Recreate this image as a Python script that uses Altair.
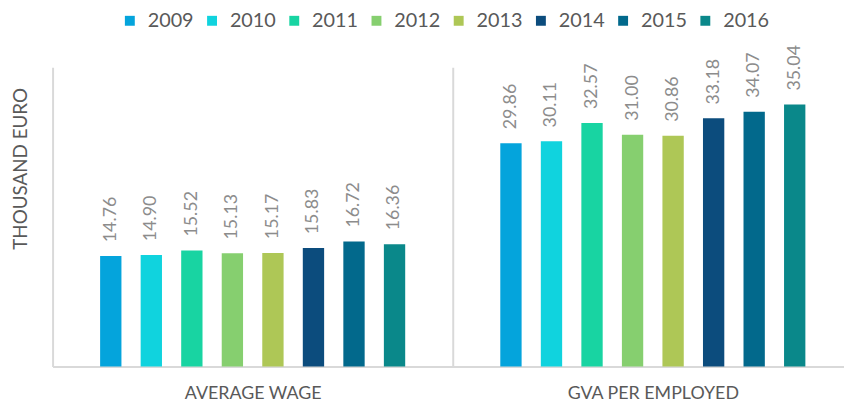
import altair as alt
import pandas as pd

groups = ["AVERAGE WAGE", "GVA PER EMPLOYED"]
years = ["2009", "2010", "2011", "2012", "2013", "2014", "2015", "2016"]
average_wage = [14.76, 14.90, 15.52, 15.13, 15.17, 15.83, 16.72, 16.36]
gva_per_employed = [29.86, 30.11, 32.57, 31.00, 30.86, 33.18, 34.07, 35.04]
colors = ["#04A4DC", "#10D3DE", "#18D4A2", "#86CF6F", "#AEC756",
          "#0C4C7D", "#02698C", "#0A888A"]

rows = []
for g, vals in zip(groups, [average_wage, gva_per_employed]):
    for y, v in zip(years, vals):
        rows.append({"group": g, "year": y, "value": v})
df = pd.DataFrame(rows)

base = alt.Chart(df).encode(
    x=alt.X(
        "group:N", sort=groups,
        scale=alt.Scale(range=[0, 808], paddingInner=0, paddingOuter=0),
        axis=alt.Axis(
            title=None, labelAngle=0, ticks=False, tickSize=0, tickBand="extent",
            grid=True, gridColor="#d9d9d9", gridWidth=2,
            domainColor="#d9d9d9", domainWidth=2,
            labelFont="Lato", labelFontSize=18, labelColor="#595959",
            labelPadding=18,
        ),
    ),
    xOffset=alt.XOffset(
        "year:N", sort=years,
        scale=alt.Scale(range=[48, 356], paddingInner=0.474, paddingOuter=0),
    ),
    y=alt.Y(
        "value:Q",
        scale=alt.Scale(domain=[0, 40], nice=False),
        axis=alt.Axis(
            title="THOUSAND EURO", labels=False, ticks=False, domain=False, grid=False,
            titleFont="Lato", titleFontSize=19, titleColor="#595959",
            titleFontWeight="normal", titleX=-32, titleY=102, titleAngle=270,
            titleAlign="center", titleBaseline="middle",
        ),
    ),
)

bars = base.mark_bar().encode(
    color=alt.Color(
        "year:N", sort=years,
        scale=alt.Scale(domain=years, range=colors),
        legend=alt.Legend(
            title=None, orient="none", legendX=68, legendY=-57,
            direction="horizontal", columns=8, symbolType="square",
            symbolSize=100, symbolStrokeWidth=0, symbolOpacity=1,
            labelFont="Lato", labelFontSize=20, labelColor="#595959",
            labelOffset=8, columnPadding=8, padding=0,
        ),
    )
)

labels = base.mark_text(
    angle=270, align="left", baseline="middle", dx=14,
    font="Lato", fontSize=18, color="#8c8c8c",
).encode(text=alt.Text("value:Q", format=".2f"))

chart = alt.layer(bars, labels).properties(
    width=799, height=302,
    autosize=alt.AutoSizeParams(type="none"),
    padding={"left": 45, "top": 58, "right": 0, "bottom": 40},
).configure_view(strokeWidth=0)

chart.save("out.html", embed_options={"renderer": "svg", "actions": False})
